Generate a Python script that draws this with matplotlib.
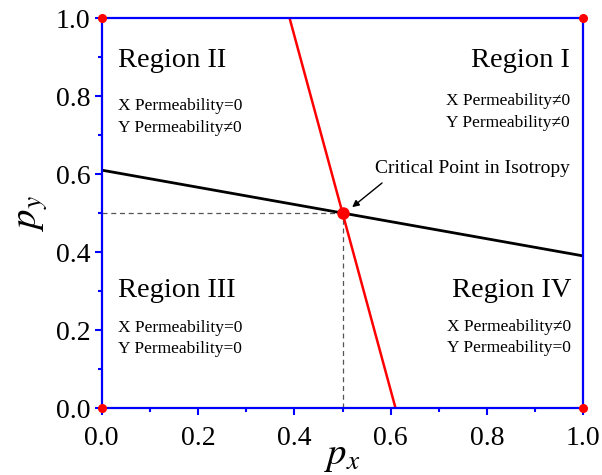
import matplotlib
matplotlib.use("Agg")
import matplotlib.pyplot as plt
from matplotlib.ticker import MultipleLocator

plt.rcParams['font.family'] = ['Liberation Serif', 'DejaVu Serif']
plt.rcParams['mathtext.fontset'] = 'stix'

# boundary lines between the permeability regions
black_px = [0.0, 1.0]
black_py = [0.61, 0.39]
red_px = [0.39, 0.61]
red_py = [1.0, 0.0]

# isotropic critical point and the corner points
crit_x, crit_y = 0.5, 0.5
corner_x = [0.0, 1.0, 0.0, 1.0]
corner_y = [0.0, 0.0, 1.0, 1.0]

ticks = [0.0, 0.2, 0.4, 0.6, 0.8, 1.0]
tick_labels = ["0.0", "0.2", "0.4", "0.6", "0.8", "1.0"]

regions = [
    ("Region II", "X Permeability=0", "Y Permeability\u22600", 0.033, [0.874, 0.764, 0.708], "left"),
    ("Region I", "X Permeability\u22600", "Y Permeability\u22600", 0.972, [0.874, 0.777, 0.72], "right"),
    ("Region III", "X Permeability=0", "Y Permeability=0", 0.033, [0.285, 0.195, 0.141], "left"),
    ("Region IV", "X Permeability\u22600", "Y Permeability=0", 0.975, [0.285, 0.197, 0.144], "right"),
]

fig = plt.figure(figsize=(6.02, 4.75), dpi=100)
ax = fig.add_axes([0.169, 0.141, 0.8, 0.821])

blue = '#0000ff'
for s in ax.spines.values():
    s.set_color(blue)
    s.set_linewidth(1.6)

ax.plot([0, crit_x], [crit_y, crit_y], ls='--', color='#555555', lw=0.9, dashes=(4, 3))
ax.plot([crit_x, crit_x], [0, crit_y], ls='--', color='#555555', lw=0.9, dashes=(4, 3))
ax.plot(black_px, black_py, color='black', lw=2.0)
ax.plot(red_px, red_py, color='#ff0000', lw=1.8)
ax.plot([crit_x], [crit_y], 'o', color='#ff0000', ms=8, zorder=5)
ax.plot(corner_x, corner_y, 'o', color='#ff0000', ms=5.5, clip_on=False, zorder=6)

for title, xl, yl, xpos, ys, ha in regions:
    ax.text(xpos, ys[0], title, fontsize=20.5, ha=ha, va='baseline')
    ax.text(xpos, ys[1], xl, fontsize=12.5, ha=ha, va='baseline')
    ax.text(xpos, ys[2], yl, fontsize=12.5, ha=ha, va='baseline')

ax.text(0.77, 0.603, "Critical Point in Isotropy", fontsize=14, ha='center', va='baseline')
# short arrow pointing at the critical point
ax.annotate("", xy=(0.52, 0.515), xytext=(0.582, 0.577),
            arrowprops=dict(arrowstyle='-|>', color='black', lw=1.0,
                            mutation_scale=10, shrinkA=0, shrinkB=0))

ax.set_xlim(0, 1)
ax.set_ylim(0, 1)
ax.set_xticks(ticks)
ax.set_xticklabels(tick_labels)
ax.set_yticks(ticks)
ax.set_yticklabels(tick_labels)
ax.xaxis.set_minor_locator(MultipleLocator(0.1))
ax.yaxis.set_minor_locator(MultipleLocator(0.1))
ax.tick_params(which='major', direction='out', length=5, width=1.5, color=blue,
               labelsize=20)
ax.tick_params(axis='x', which='major', pad=8)
ax.tick_params(axis='y', which='major', pad=3)
ax.tick_params(which='minor', direction='out', length=3, width=1.5, color=blue)

ax.set_xlabel(r'$p_x$', fontsize=28, labelpad=-10)
ax.set_ylabel(r'$p_y$', fontsize=28, labelpad=4)

fig.savefig('out.png', dpi=100)
